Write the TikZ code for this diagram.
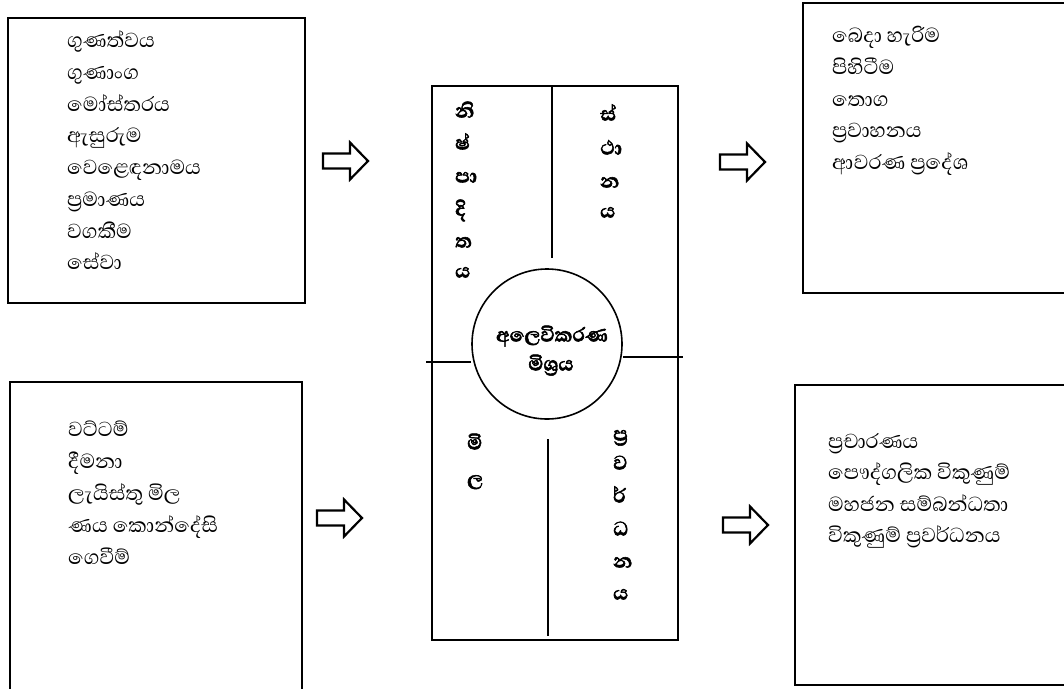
\documentclass[tikz,border=0pt]{standalone}
\usepackage{fontspec}
\newfontfamily\sinhalafont[Script=Sinhala]{Abhaya Libre}
\newfontfamily\sinhalabold[Script=Sinhala,FakeBold=2.2]{Abhaya Libre}
\begin{document}
\begin{tikzpicture}[x=1pt,y=-1pt,
  box/.style={line width=2.2pt},
  item/.style={anchor=west,inner sep=0pt,text height=0.5em,text depth=0pt,font=\sinhalafont\fontsize{26}{26}\selectfont,text=black},
  letter/.style={anchor=west,inner sep=0pt,text height=0.5em,text depth=0pt,font=\sinhalabold\bfseries\fontsize{25}{25}\selectfont},
  divider/.style={line width=2.6pt},
  arrowline/.style={line width=2.2pt,line join=miter},
  blockarrow/.pic={\draw[arrowline] (0,-7.5)--(27,-7.5)--(27,-18.5)--(45,0)--(27,18.5)--(27,7.5)--(0,7.5)--cycle;}
]
\useasboundingbox (0,0) rectangle (1064,688);
% outer boxes
\draw[box] (8,18) rectangle (305,303);
\draw[box] (10,692)--(10,382)--(302,382)--(302,692);
\draw[box] (1068,3)--(803,3)--(803,293)--(1068,293);
\draw[box] (1068,385)--(795,385)--(795,685)--(1068,685);
% lists
\foreach \t [count=\i] in {ගුණත්වය,ගුණාංග,මෝස්තරය,ඇසුරුම,වෙළෙඳනාමය,ප්‍රමාණය,වගකීම,සේවා}
  \node[item] (tl\i) at (67,{45+31.75*(\i-1)}) {\t};
\foreach \t [count=\i] in {වට්ටම්,දීමනා,ලැයිස්තු මිල,ණය කොන්දේසි,ගෙවීම්}
  \node[item] (bl\i) at (68,{434+32*(\i-1)}) {\t};
\foreach \t [count=\i] in {බෙදා හැරිම,පිහිටීම,තොග,ප්‍රවාහනය,ආවරණ ප්‍රදේශ}
  \node[item] (tr\i) at (832,{40+31.8*(\i-1)}) {\t};
\foreach \t [count=\i] in {ප්‍රචාරණය,පෞද්ගලික විකුණුම්,මහජන සම්බන්ධතා,විකුණුම් ප්‍රවර්ධනය}
  \node[item] (br\i) at (828,{446+31.3*(\i-1)}) {\t};
% arrows
\pic at (323,161) {blockarrow};
\pic at (720,162) {blockarrow};
\pic at (317,518) {blockarrow};
\pic at (723,525) {blockarrow};
% centre
\draw[box] (432,86) rectangle (678,640);
\draw[divider] (552,86)--(552,258);
\draw[divider] (548,439)--(548,636);
\node[draw,circle,line width=1.6pt,minimum size=150pt,inner sep=0pt,fill=white] (mix) at (547,344) {};
\draw[divider] (426,362)--(mix.west|-0,362);
\draw[divider] (mix.east|-0,357)--(683,357);
\node[letter,anchor=center] (mixa) at (552,339) {අලෙවිකරණ};
\node[letter,anchor=center] (mixb) at (551,368) {මිශ්‍රය};
\foreach \t/\y [count=\i] in {නි/115,ෂ්/147,පා/180,දි/213,ත/245,ය/275}
  \node[letter] (p\i) at (455,\y) {\t};
\foreach \t/\y [count=\i] in {ස්/118,ථා/152,න/185,ය/215}
  \node[letter] (s\i) at (600,\y) {\t};
\foreach \t/\y [count=\i] in {මි/447,ල/483}
  \node[letter] (m\i) at (467,\y) {\t};
\foreach \t/\y [count=\i] in {ප්‍ර/438,ව/467,ර්/500,ධ/533,න/565,ය/597}
  \node[letter] (v\i) at (613,\y) {\t};
\end{tikzpicture}
\end{document}
